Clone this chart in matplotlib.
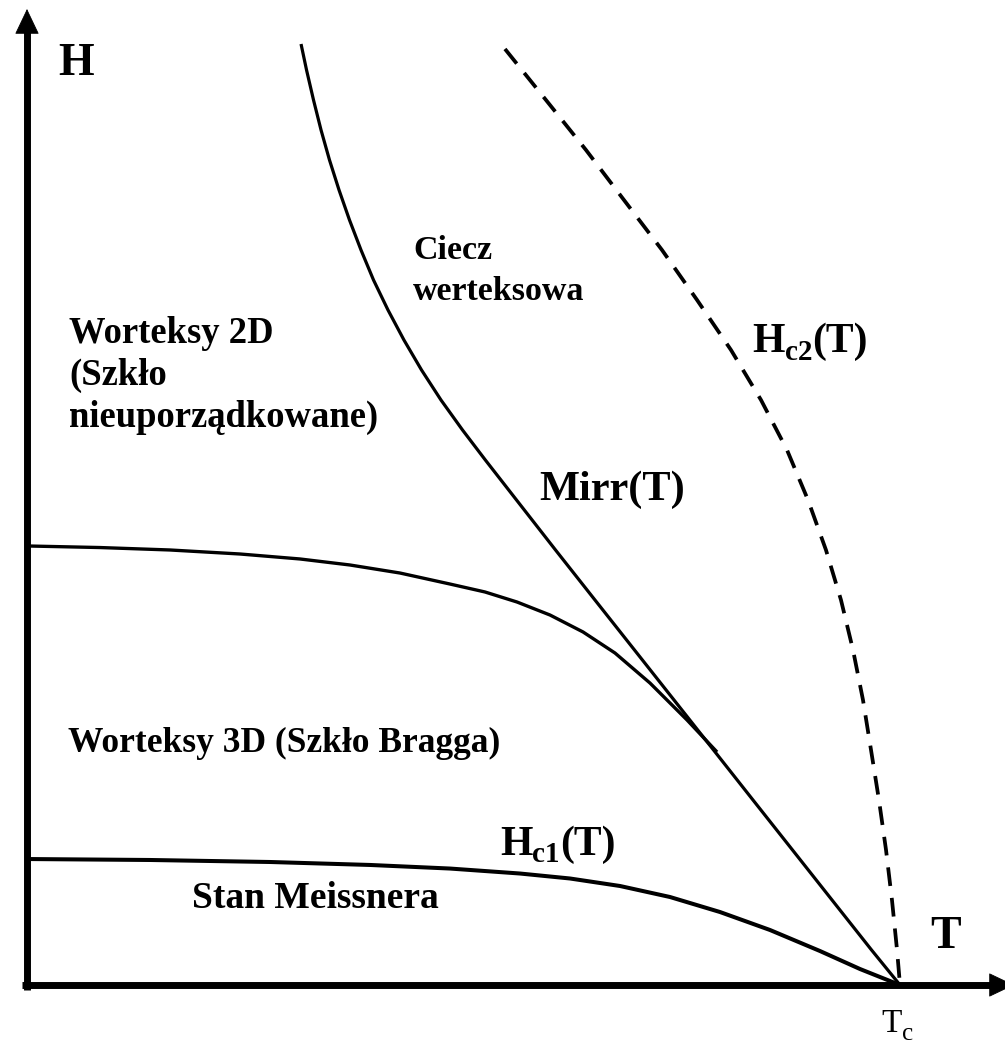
import matplotlib
matplotlib.use("Agg")
import matplotlib.pyplot as plt
from matplotlib.transforms import offset_copy

# Reduced temperature T/Tc and reduced field H (arbitrary units)
mirr_T = [0.3139, 0.3202, 0.3282, 0.3368, 0.3465, 0.3574, 0.3694, 0.3826,
          0.3969, 0.4135, 0.4318, 0.4519, 0.4742, 0.4989, 0.5250, 0.5607,
          0.6054, 0.6506, 0.6959, 0.7411, 0.7864, 0.8316, 0.8769, 0.9221,
          0.9674, 1.0]
mirr_H = [1.0779, 1.0481, 1.0137, 0.9794, 0.9450, 0.9107, 0.8763, 0.8419,
          0.8076, 0.7732, 0.7388, 0.7045, 0.6701, 0.6357, 0.6014, 0.5556,
          0.4983, 0.4410, 0.3837, 0.3265, 0.2692, 0.2119, 0.1546, 0.0974,
          0.0401, 0.0]

hc2_T = [0.5475, 0.5945, 0.6403, 0.6838, 0.7274, 0.7675, 0.8064, 0.8408,
         0.8706, 0.8946, 0.9152, 0.9324, 0.9462, 0.9576, 0.9668, 0.9759,
         0.9840, 0.9908, 0.9966, 1.0]
hc2_H = [1.0722, 1.0137, 0.9565, 0.8992, 0.8419, 0.7847, 0.7274, 0.6701,
         0.6128, 0.5556, 0.4983, 0.4410, 0.3837, 0.3265, 0.2692, 0.2119,
         0.1546, 0.0974, 0.0401, 0.0]

# boundary between 2D and 3D vortex phases
dim_T = [0.0, 0.0836, 0.1638, 0.2440, 0.3127, 0.3700, 0.4273, 0.4845,
         0.5246, 0.5613, 0.5991, 0.6369, 0.6735, 0.7136, 0.7560, 0.7904]
dim_H = [0.5029, 0.5011, 0.4983, 0.4937, 0.4880, 0.4811, 0.4719, 0.4593,
         0.4502, 0.4387, 0.4238, 0.4044, 0.3803, 0.3459, 0.3036, 0.2669]

hc1_T = [0.0, 0.1409, 0.2784, 0.3929, 0.4845, 0.5647, 0.6220, 0.6793,
         0.7365, 0.7938, 0.8511, 0.9084, 0.9542, 1.0]
hc1_H = [0.1443, 0.1432, 0.1409, 0.1375, 0.1334, 0.1277, 0.1220, 0.1134,
         0.1008, 0.0836, 0.0630, 0.0389, 0.0183, 0.0]

W, H = 1005, 1043
fig = plt.figure(figsize=(W / 100, H / 100), dpi=100)
ax = fig.add_axes([0, 0, 1, 1])
ax.set_xlim(-27 / 873, (W - 27) / 873)
ax.set_ylim(-(H - 985) / 873, 985 / 873)
ax.axis('off')

# axes: thick shafts plus filled arrow heads
ax.plot([0, 0], [-0.0057, 1.092], color='black', lw=5, solid_capstyle='butt')
ax.plot([-0.0057, 1.106], [0, 0], color='black', lw=5, solid_capstyle='butt')
head = dict(arrowstyle='-|>,head_length=0.84,head_width=0.40',
            lw=0.6, color='black', mutation_scale=20, shrinkA=0, shrinkB=0)
ax.annotate('', xy=(0, 1.118), xytext=(0, 1.05), arrowprops=head,
            annotation_clip=False)
ax.annotate('', xy=(1.1306, 0), xytext=(1.08, 0), arrowprops=head,
            annotation_clip=False)

ax.plot(hc1_T, hc1_H, color='black', lw=2.9, solid_capstyle='butt',
        solid_joinstyle='round')
ax.plot(dim_T, dim_H, color='black', lw=2.4, solid_capstyle='butt',
        solid_joinstyle='round')
ax.plot(mirr_T, mirr_H, color='black', lw=2.3, solid_capstyle='butt',
        solid_joinstyle='round')
ax.plot(hc2_T, hc2_H, color='black', lw=2.7, linestyle=(0, (5.0, 3.2)))

serif = 'Liberation Serif'
bold = dict(family=serif, weight='bold', va='baseline', ha='left', color='black')
plain = dict(family=serif, weight='normal', va='baseline', ha='left', color='black')

renderer = fig.canvas.get_renderer()


def subscripted(x, y, main, sub, tail, size, subsize, drop, style):
    """Main text, lowered smaller subscript, then trailing text."""
    t1 = ax.text(x, y, main, fontsize=size, **style)
    w1 = t1.get_window_extent(renderer).width
    tr2 = offset_copy(ax.transData, fig=fig, x=w1, y=-drop, units='dots')
    t2 = ax.text(x, y, sub, fontsize=subsize, transform=tr2, **style)
    w2 = t2.get_window_extent(renderer).width
    if tail:
        tr3 = offset_copy(ax.transData, fig=fig, x=w1 + w2, y=0, units='dots')
        ax.text(x, y, tail, fontsize=size, transform=tr3, **style)


ax.text(0.0355, 1.0424, 'H', fontsize=33, **bold)
ax.text(1.0344, 0.0424, 'T', fontsize=33, **bold)
subscripted(0.979, -0.0538, 'T', 'c', '', 24, 18, 8, plain)

ax.text(0.4422, 0.8316, 'Ciecz', fontsize=24.5, **bold)
ax.text(0.4422, 0.7847, 'werteksowa', fontsize=24.5, **bold)

ax.text(0.0481, 0.7354, 'Worteksy 2D', fontsize=26.4, **bold)
ax.text(0.0481, 0.6873, '(Szkło', fontsize=26.4, **bold)
ax.text(0.0481, 0.6392, 'nieuporządkowane)', fontsize=26.4, **bold)

ax.text(0.047, 0.2669, 'Worteksy 3D (Szkło Bragga)', fontsize=25.5, **bold)
ax.text(0.189, 0.0882, 'Stan Meissnera', fontsize=27, **bold)

ax.text(0.5865, 0.5556, 'Mirr(T)', fontsize=30.5, **bold)
subscripted(0.8305, 0.7251, 'H', 'c2', '(T)', 30, 21, 8, bold)
subscripted(0.5418, 0.1489, 'H', 'c1', '(T)', 30, 21, 7, bold)

fig.savefig('out.png', dpi=100)
